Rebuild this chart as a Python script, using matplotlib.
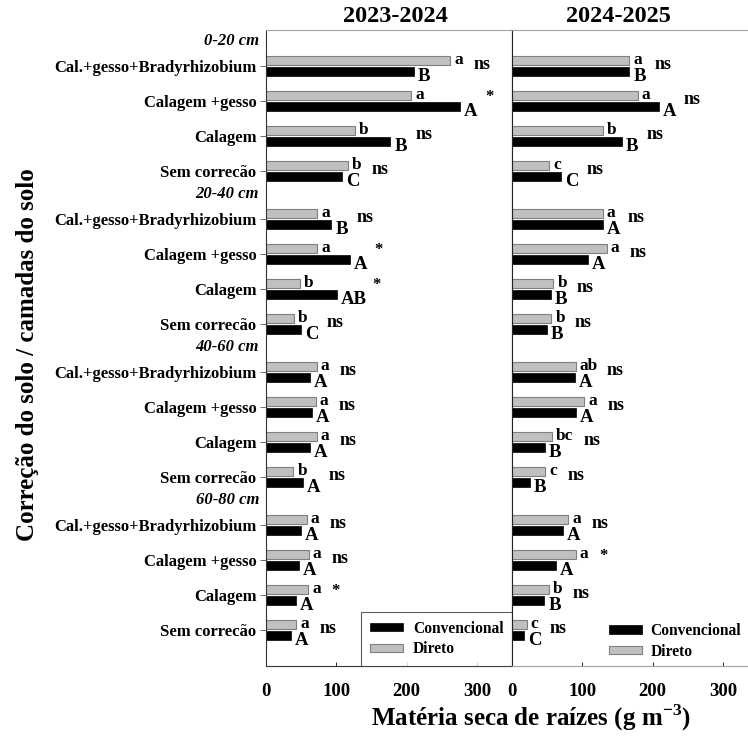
import matplotlib
matplotlib.use("Agg")
import matplotlib.pyplot as plt
import numpy as np

plt.rcParams['font.family'] = ['Liberation Serif', 'DejaVu Serif']
plt.rcParams['font.weight'] = 'bold'
plt.rcParams['mathtext.fontset'] = 'custom'
plt.rcParams['mathtext.rm'] = 'Liberation Serif:bold'
plt.rcParams['mathtext.bf'] = 'Liberation Serif:bold'

# ---- data -------------------------------------------------------------
treatments = ["Cal.+gesso+Bradyrhizobium", "Calagem +gesso", "Calagem", "Sem correcão"]
depths = ["0-20 cm", "20-40 cm", "40-60 cm", "60-80 cm"]
seasons = ["2023-2024", "2024-2025"]

# root dry matter (g m-3), order: depth blocks x treatments
conv_2324 = [210, 276, 177, 108, 93, 119, 101, 50, 62, 65, 62, 53, 50, 47, 42, 35]
direto_2324 = [262, 207, 127, 117, 73, 73, 48, 40, 72, 71, 72, 39, 58, 61, 60, 43]
conv_2425 = [167, 209, 156, 70, 129, 108, 55, 50, 90, 91, 47, 25, 72, 63, 46, 17]
direto_2425 = [167, 179, 129, 53, 129, 135, 59, 56, 91, 103, 57, 47, 80, 91, 53, 21]

# mean-separation letters
direto_let_2324 = ["a", "a", "b", "b", "a", "a", "b", "b", "a", "a", "a", "b", "a", "a", "a", "a"]
conv_let_2324 = ["B", "A", "B", "C", "B", "A", "AB", "C", "A", "A", "A", "A", "A", "A", "A", "A"]
sig_2324 = ["ns", "*", "ns", "ns", "ns", "*", "*", "ns", "ns", "ns", "ns", "ns", "ns", "ns", "*", "ns"]

direto_let_2425 = ["a", "a", "b", "c", "a", "a", "b", "b", "ab", "a", "bc", "c", "a", "a", "b", "c"]
conv_let_2425 = ["B", "A", "B", "C", "A", "A", "B", "B", "A", "A", "B", "B", "A", "A", "B", "C"]
sig_2425 = ["ns", "ns", "ns", "ns", "ns", "ns", "ns", "ns", "ns", "ns", "ns", "ns", "ns", "*", "ns", "ns"]

# ---- layout -----------------------------------------------------------
W, H = 748, 738
fig = plt.figure(figsize=(W / 100, H / 100), dpi=100)

block_step = 3 + 48 / 35
ypos = np.array([d * block_step + t for d in range(len(depths)) for t in range(len(treatments))])
header_y = [d * block_step - 0.72 for d in range(len(depths))]
bar_h = 0.27
off = 0.16

gray_fc = "#c0c0c0"
gray_ec = "#7f7f7f"

ax_rect_y = 1 - 666 / H
ax_h = 636 / H
axL = fig.add_axes([266 / W, ax_rect_y, 246 / W, ax_h])
axR = fig.add_axes([512 / W, ax_rect_y, 246 / W, ax_h])

panels = [
    (axL, conv_2324, direto_2324, conv_let_2324, direto_let_2324, sig_2324),
    (axR, conv_2425, direto_2425, conv_let_2425, direto_let_2425, sig_2425),
]

px_per_unit = 246 / 350.0

for ax, conv, direto, clet, dlet, sig in panels:
    ax.barh(ypos - off, direto, height=bar_h, color=gray_fc, edgecolor=gray_ec,
            linewidth=0.8, label="Direto", zorder=2)
    ax.barh(ypos + off, conv, height=bar_h, color="black", edgecolor="black",
            linewidth=0.5, label="Convencional", zorder=2)
    ax.set_xlim(0, 350)
    ax.set_ylim(17.14, -1.03)
    ax.set_xticks([0, 100, 200, 300])
    ax.tick_params(axis='x', direction='in', length=3, pad=12, labelsize=13.5, width=0.6)
    for i, y in enumerate(ypos):
        dv, cv = direto[i], conv[i]
        ax.annotate(dlet[i], xy=(dv, y - off), xytext=(4, 0), textcoords='offset pixels',
                    ha='left', va='center', fontsize=12.5, fontweight='bold')
        ax.annotate(clet[i], xy=(cv, y + off), xytext=(4, -5), textcoords='offset pixels',
                    ha='left', va='center', fontsize=13.5, fontweight='bold')
        end_px = max(dv * px_per_unit + 4 + 8 * len(dlet[i]),
                     cv * px_per_unit + 4 + 10 * len(clet[i])) + 11
        if sig[i] == "*":
            ax.annotate("*", xy=(end_px / px_per_unit, y), xytext=(0, 4),
                        textcoords='offset pixels', ha='left', va='center',
                        fontsize=12, fontweight='bold')
        else:
            ax.annotate("ns", xy=(end_px / px_per_unit, y), xytext=(0, 2),
                        textcoords='offset pixels', ha='left', va='center',
                        fontsize=13, fontweight='bold')
    for s in ax.spines.values():
        s.set_linewidth(0.8)
        s.set_color("#333333")
    ax.spines['top'].set_color("#a0a0a0")

# left panel: category labels and depth headers
axL.set_yticks(ypos)
axL.set_yticklabels([treatments[i % 4] for i in range(len(ypos))], fontsize=12, fontweight='bold')
axL.tick_params(axis='y', direction='out', length=4, pad=3, width=0.6, color="#555555")
for d, hy in enumerate(header_y):
    axL.annotate(depths[d], xy=(0, hy), xycoords=('axes fraction', 'data'),
                 xytext=(-7, 0), textcoords='offset pixels', ha='right', va='center',
                 fontsize=12, fontstyle='italic', fontweight='bold')

axR.set_yticks([])
axR.spines['bottom'].set_color("#a0a0a0")
axR.spines['left'].set_color("#222222")

# titles
axL.text((395 - 266) / 246, 1.004, seasons[0], transform=axL.transAxes, ha='center',
         va='bottom', fontsize=17.5, fontweight='bold')
axR.text((618 - 512) / 246, 1.004, seasons[1], transform=axR.transAxes, ha='center',
         va='bottom', fontsize=17.5, fontweight='bold')

# axis titles
fig.text(531 / W, 1 - 718 / H, "Matéria seca de raízes (g m$^{-3}$)", ha='center',
         va='center', fontsize=18, fontweight='bold')
fig.text(28 / W, 1 - 355 / H, "Correção do solo / camadas do solo", rotation=90,
         ha='center', va='center', fontsize=18, fontweight='bold')

# legends
hL, lL = axL.get_legend_handles_labels()
legL = axL.legend(hL[::-1], lL[::-1], loc='lower right', bbox_to_anchor=(1, 0),
                  borderaxespad=0, frameon=True, fancybox=False, edgecolor="#333333",
                  fontsize=11.2, handlelength=2.1, handleheight=0.45, labelspacing=0.3,
                  handletextpad=0.65, borderpad=0.55)
legL.get_frame().set_linewidth(0.8)
for t in legL.get_texts():
    t.set_fontweight('bold')

hR, lR = axR.get_legend_handles_labels()
legR = axR.legend(hR[::-1], lR[::-1], loc='lower left',
                  bbox_to_anchor=(603 / W, 1 - 666 / H), bbox_transform=fig.transFigure,
                  borderaxespad=0, frameon=False, fontsize=11.2, handlelength=2.1,
                  handleheight=0.45, labelspacing=0.3, handletextpad=0.55, borderpad=0.4)
for t in legR.get_texts():
    t.set_fontweight('bold')

fig.savefig("out.png", dpi=100)
